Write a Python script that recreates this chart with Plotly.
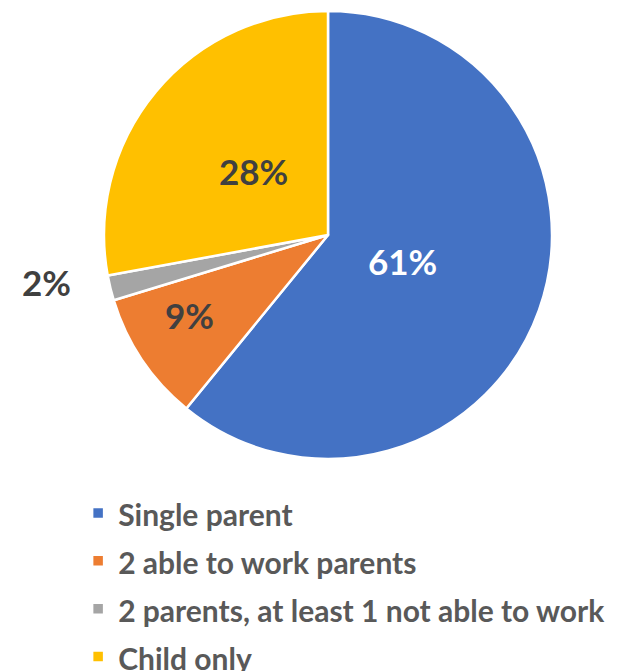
import math
import plotly.graph_objects as go

# Household type shares (percent)
labels = ["Single parent", "2 able to work parents",
          "2 parents, at least 1 not able to work", "Child only"]
values = [60.9, 9.4, 1.8, 27.9]
colors = ["#4472C4", "#ED7D31", "#A5A5A5", "#FFC000"]
label_text = ["61%", "9%", "2%", "28%"]
label_colors = ["#FFFFFF", "#404040", "#404040", "#404040"]
label_radius = [0.355, 0.72, 1.275, 0.43]   # fraction of pie radius for each label
label_turn = [1.8, 2.8, 3.5, -0.7]           # small angular nudge (degrees) from the mid-angle

W, H = 625, 671
cx, cy, R = 328, 235, 224

fig = go.Figure(go.Pie(
    labels=[f'<span style="font-size:30px">{t}</span>' for t in labels],
    values=values,
    marker=dict(colors=colors, line=dict(color="#FFFFFF", width=2.5)),
    sort=False,
    direction="clockwise",
    rotation=0,
    textinfo="none",
    hoverinfo="label+percent",
    domain=dict(x=[(cx - R) / W, (cx + R) / W], y=[1 - (cy + R) / H, 1 - (cy - R) / H]),
))

# Data labels placed along each slice's mid-angle
total = sum(values)
cum = 0.0
annotations = []
for v, txt, col, f, turn in zip(values, label_text, label_colors, label_radius, label_turn):
    mid = (cum + v / 2) / total * 2 * math.pi + math.radians(turn)
    cum += v
    px = cx + f * R * math.sin(mid)
    py = cy - f * R * math.cos(mid)
    annotations.append(dict(
        x=px / W, y=1 - py / H, xref="paper", yref="paper",
        text=f"<b>{txt}</b>", showarrow=False,
        font=dict(family="Lato", size=35, color=col),
        xanchor="center", yanchor="middle", yshift=3,
    ))

fig.update_layout(
    width=W, height=H,
    margin=dict(l=0, r=0, t=0, b=0, autoexpand=False),
    paper_bgcolor="#FFFFFF",
    plot_bgcolor="#FFFFFF",
    annotations=annotations,
    showlegend=True,
    legend=dict(
        x=0.125, y=1 - 484 / H, xanchor="left", yanchor="top",
        orientation="v",
        font=dict(family="Lato", size=34.5, color="#595959", weight="bold"),
        traceorder="normal",
        itemclick=False,
    ),
)

fig.write_html("out.html")
